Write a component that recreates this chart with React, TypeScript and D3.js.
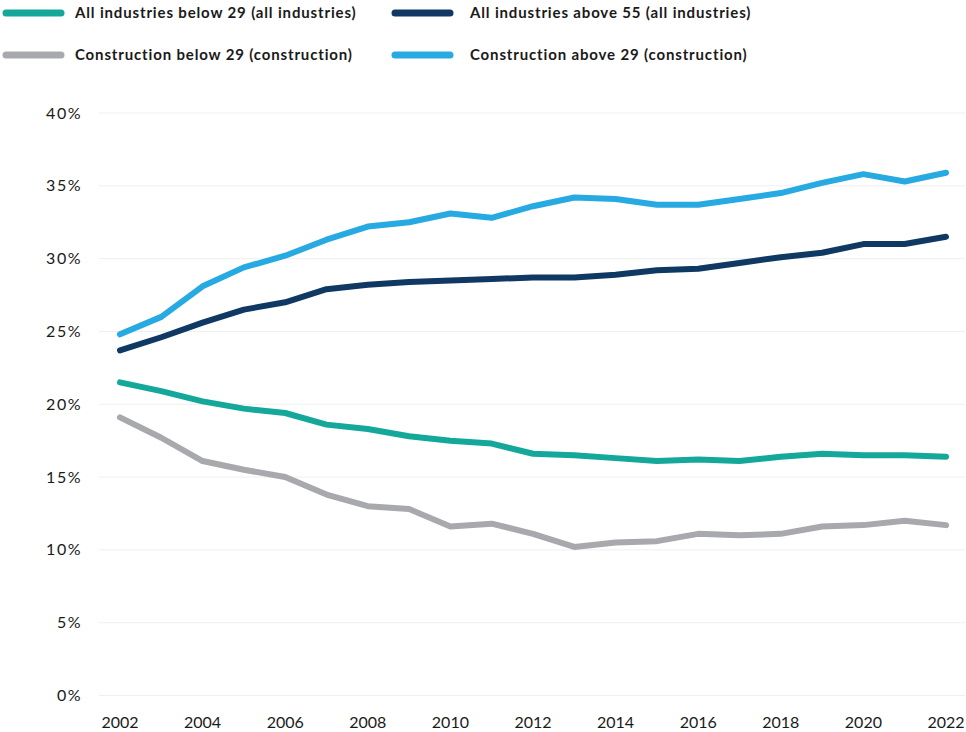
import React from "react";
import * as d3 from "d3";

const years = d3.range(2002, 2023);
const allBelow29 = [21.5, 20.9, 20.2, 19.7, 19.4, 18.6, 18.3, 17.8, 17.5, 17.3, 16.6, 16.5, 16.3, 16.1, 16.2, 16.1, 16.4, 16.6, 16.5, 16.5, 16.4];
const allAbove55 = [23.7, 24.6, 25.6, 26.5, 27.0, 27.9, 28.2, 28.4, 28.5, 28.6, 28.7, 28.7, 28.9, 29.2, 29.3, 29.7, 30.1, 30.4, 31.0, 31.0, 31.5];
const consBelow29 = [19.1, 17.7, 16.1, 15.5, 15.0, 13.8, 13.0, 12.8, 11.6, 11.8, 11.1, 10.2, 10.5, 10.6, 11.1, 11.0, 11.1, 11.6, 11.7, 12.0, 11.7];
const consAbove29 = [24.8, 26.0, 28.1, 29.4, 30.2, 31.3, 32.2, 32.5, 33.1, 32.8, 33.6, 34.2, 34.1, 33.7, 33.7, 34.1, 34.5, 35.2, 35.8, 35.3, 35.9];
const yTicks = [0, 5, 10, 15, 20, 25, 30, 35, 40];
const xTicks = d3.range(2002, 2023, 2);

const seriesNames = [
  "All industries below 29 (all industries)",
  "All industries above 55 (all industries)",
  "Construction below 29 (construction)",
  "Construction above 29 (construction)",
];
const seriesColors = ["#13a89a", "#0f3863", "#a7a9ac", "#27aae1"];
const seriesValues = [allBelow29, allAbove55, consBelow29, consAbove29];

export default function App() {
  const W = 966, H = 732;
  const x = d3.scaleLinear().domain([2002, 2022]).range([120, 946]);
  const y = d3.scaleLinear().domain([0, 40]).range([695.5, 113]);
  const line = d3.line<number>().x((_, i) => x(years[i])).y((d) => y(d));
  const font = "Lato, 'Noto Sans', sans-serif";
  const legendPos = [
    { sx: 3, tx: 75, ly: 13 },
    { sx: 392, tx: 470, ly: 13 },
    { sx: 3, tx: 75, ly: 55 },
    { sx: 392, tx: 470, ly: 55 },
  ];
  return (
    <svg width={W} height={H} style={{ position: "absolute", left: 0, top: 0, background: "#fff" }} fontFamily={font}>
      {yTicks.map((t) => (
        <g key={t}>
          <line x1={99} x2={965} y1={y(t)} y2={y(t)} stroke="#efefef" strokeWidth={1} />
          <text x={82} y={y(t)} dy="0.35em" textAnchor="end" fontSize={16} letterSpacing={1.5} fill="#1a1a1a">
            {t}%
          </text>
        </g>
      ))}
      {xTicks.map((t) => (
        <text key={t} x={x(t)} y={722} dy="0.35em" textAnchor="middle" fontSize={16} fill="#1a1a1a">
          {t}
        </text>
      ))}
      {seriesValues.map((vals, i) => (
        <path key={i} d={line(vals) || ""} fill="none" stroke={seriesColors[i]} strokeWidth={6} strokeLinecap="round" strokeLinejoin="round" />
      ))}
      {seriesNames.map((n, i) => {
        const p = legendPos[i];
        return (
          <g key={n}>
            <line x1={p.sx + 3} x2={p.sx + 58} y1={p.ly} y2={p.ly} stroke={seriesColors[i]} strokeWidth={7} strokeLinecap="round" />
            <text x={p.tx} y={p.ly} dy="0.35em" fontSize={15} fontWeight={700} letterSpacing={0.85} fill="#1a1a1a">
              {n}
            </text>
          </g>
        );
      })}
    </svg>
  );
}
